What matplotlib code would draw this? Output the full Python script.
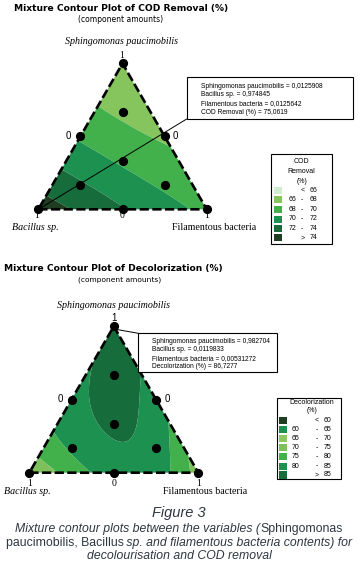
import numpy as np
import matplotlib
matplotlib.use('Agg')
import matplotlib.pyplot as plt
import matplotlib.tri as mtri
from matplotlib.patches import Rectangle

# ---------------- data ----------------
components = ['Sphingomonas paucimobilis', 'Bacillus sp.', 'Filamentous bacteria']

# COD removal (%): 10 design points (s, b, f), then contour-edge readings
cod_s = [1, 0, 0, 0.5, 0.5, 0, 1/3, 2/3, 1/6, 1/6, 0.702, 0.474, 0.268, 0.097, 0.44, 0, 0, 0]
cod_b = [0, 1, 0, 0.5, 0, 0.5, 1/3, 1/6, 2/3, 1/6, 0.298, 0.526, 0.732, 0.903, 0, 0.10, 0.464, 0.81]
cod_f = [0, 0, 1, 0, 0.5, 0.5, 1/3, 1/6, 1/6, 2/3, 0, 0, 0, 0, 0.56, 0.90, 0.536, 0.19]
cod_values = [66.4, 75.1, 69.6, 69.8, 67.7, 72.1, 69.8, 67.6, 72.2, 69.6,
              68.0, 70.0, 72.0, 74.0, 68.0, 70.0, 72.0, 74.0]
cod_levels = [66, 68, 70, 72, 74]
cod_colors = ['#d2ecd0', '#86c45e', '#43b14b', '#1d9150', '#176c3b', '#1f3d21']
cod_legend = ['<  66', '66  -  68', '68  -  70', '70  -  72', '72  -  74', '>  74']
cod_annot = (0.0125908, 0.974845, 0.0125642, 75.0619)

# Decolorization (%): 10 design points, then contour-edge readings
dec_s = [1, 0, 0, 0.5, 0.5, 0, 1/3, 2/3, 1/6, 1/6,
         0.84, 0.22, 0.155, 0.77, 0.24, 0.20, 0, 0, 0, 0, 0.496, 0.427, 0.245]
dec_b = [0, 1, 0, 0.5, 0, 0.5, 1/3, 1/6, 2/3, 1/6,
         0.16, 0.78, 0.845, 0, 0, 0, 0.76, 0.72, 0.11, 0.07, 0.442, 0.13, 0.382]
dec_f = [0, 0, 1, 0, 0.5, 0.5, 1/3, 1/6, 1/6, 2/3,
         0, 0, 0, 0.23, 0.76, 0.80, 0.24, 0.28, 0.89, 0.93, 0.062, 0.443, 0.373]
dec_values = [86.8, 71.0, 72.0, 82.5, 82.8, 82.0, 85.5, 87.0, 81.0, 81.2,
              85.0, 80.0, 75.0, 85.0, 80.0, 75.0, 75.0, 80.0, 80.0, 75.0, 85.0, 85.0, 85.0]
dec_levels = [60, 65, 70, 75, 80, 85]
dec_colors = ['#1f3d21', '#1d9150', '#8cc762', '#80c05c', '#43b14b', '#1d9150', '#176c3b']
dec_legend = ['<  60', '60  -  65', '65  -  70', '70  -  75', '75  -  80', '80  -  85', '>  85']
dec_annot = (0.982704, 0.0119833, 0.00531272, 86.7277)

# ---------------- helpers ----------------
W_FIG, H_FIG = 358, 567
fig = plt.figure(figsize=(3.58, 5.67), dpi=100)
renderer = fig.canvas.get_renderer()
SANS = ['Liberation Sans', 'DejaVu Sans']
SERIF = ['Liberation Serif', 'DejaVu Serif']
SQ = np.sqrt(3) / 2


def fx(x):
    return x / W_FIG


def fy(y):
    return 1 - y / H_FIG


def ptext(x, y, s, **kw):
    kw.setdefault('va', 'center')
    return fig.text(fx(x), fy(y), s, **kw)


def fit_width(t, target):
    w = t.get_window_extent(renderer).width
    t.set_fontsize(t.get_fontsize() * target / w)


def rect(x0, y0, x1, y1, **kw):
    r = Rectangle((fx(x0), fy(y1)), fx(x1) - fx(x0), fy(y0) - fy(y1),
                  transform=fig.transFigure, **kw)
    fig.add_artist(r)


def to_xy(s, b, f):
    s = np.asarray(s, float)
    f = np.asarray(f, float)
    return f + s / 2, s * SQ


def terms(s, b, f):
    return np.column_stack([s, b, f, s * b, s * f, b * f,
                            s * b * (s - b), s * f * (s - f), b * f * (b - f), s * b * f])


def fit(s, b, f, z):
    X = terms(np.array(s, float), np.array(b, float), np.array(f, float))
    coef, *_ = np.linalg.lstsq(X, np.array(z, float), rcond=None)
    return coef


n = 90
pts = np.array([(i / n, j / n, (n - i - j) / n) for i in range(n + 1) for j in range(n + 1 - i)])
gs, gb, gf = pts.T
gx, gy = to_xy(gs, gb, gf)
tri = mtri.Triangulation(gx, gy)


def ternary(x0, ybase, w, s, b, f, z, levels, colors, design_n):
    ax = fig.add_axes([0, 0, 1, 1])
    ax.set_xlim(-x0 / w, (W_FIG - x0) / w)
    yb = H_FIG - ybase
    ax.set_ylim(-yb / w, (H_FIG - yb) / w)
    ax.axis('off')
    ax.patch.set_alpha(0)
    coef = fit(s, b, f, z)
    zz = terms(gs, gb, gf) @ coef
    ax.tricontourf(tri, zz, levels=[-1e3] + levels + [1e3], colors=colors, antialiased=True)
    ax.plot([0, 1, 0.5, 0], [0, 0, SQ, 0], color='black', lw=1.9,
            linestyle=(0, (3.5, 1.3)), zorder=4, clip_on=False)
    dx, dy = to_xy(s[:design_n], b[:design_n], f[:design_n])
    ax.plot(dx, dy, 'o', color='black', ms=5.6, zorder=5, clip_on=False)
    return ax


def fmt(v):
    return str(v).replace('.', ',')


# ---------------- plot 1: COD ----------------
ax1 = ternary(38.3, 209.3, 168.4, cod_s, cod_b, cod_f, cod_values, cod_levels, cod_colors, 10)

t = ptext(121, 8, 'Mixture Contour Plot of COD Removal (%)', ha='center',
          fontweight='bold', family=['DejaVu Sans'], fontsize=7)
fit_width(t, 215)
t = ptext(121, 19.5, '(component amounts)', ha='center', family=['DejaVu Sans'], fontsize=6)
fit_width(t, 86)
ptext(122, 41.5, components[0], ha='center', family=SERIF, style='italic', fontsize=7.2)
ptext(122, 55, '1', ha='center', family=SERIF, fontsize=7)
ptext(68.3, 135.7, '0', ha='center', family=SANS, fontsize=7)
ptext(175.5, 135.7, '0', ha='center', family=SANS, fontsize=7)
for xx, lab in [(37, '1'), (122, '0'), (207, '1')]:
    ptext(xx, 216, lab, ha='center', family=SERIF, fontsize=7)
ptext(11.7, 227.5, components[1], ha='left', family=SERIF, style='italic', fontsize=7.2)
ptext(171.7, 227.5, components[2], ha='left', family=SERIF, fontsize=7.2)

rect(186.7, 77.3, 353, 119, fill=True, facecolor='white', edgecolor='black', lw=0.8, zorder=6)
lines1 = [components[0] + ' = ' + fmt(cod_annot[0]),
          components[1] + ' = ' + fmt(cod_annot[1]),
          components[2] + ' = ' + fmt(cod_annot[2]),
          'COD Removal (%) = ' + fmt(cod_annot[3])]
for i, ln in enumerate(lines1):
    ptext(200.7, 86 + i * 8.7, ln, ha='left', family=SANS, fontsize=4.8, zorder=7)
ax1.annotate('', xy=to_xy(cod_annot[0], cod_annot[1], cod_annot[2]), xycoords='data',
             xytext=(fx(186.7), fy(119)), textcoords='figure fraction',
             arrowprops=dict(arrowstyle='-', lw=0.7, color='black', shrinkA=0, shrinkB=0),
             zorder=6)

rect(271, 154, 332.3, 244, fill=False, edgecolor='black', lw=0.8)
for i, tl in enumerate(['COD', 'Removal', '(%)']):
    ptext(301.7, 161.7 + i * 10, tl, ha='center', family=SANS, fontsize=5)
cod_rows = [190, 199.7, 209.3, 219, 228.3, 237.7]
for yy, col, lab in zip(cod_rows, cod_colors, cod_legend):
    rect(274.3, yy - 3.5, 281.7, yy + 3.5, facecolor=col, edgecolor='none')
    parts = lab.split()
    if len(parts) == 3:
        ptext(288.7, yy, parts[0], ha='left', family=SANS, fontsize=5)
        ptext(302.3, yy, parts[1], ha='center', family=SANS, fontsize=5)
        ptext(310, yy, parts[2], ha='left', family=SANS, fontsize=5)
    else:
        ptext(302.3, yy, parts[0], ha='center', family=SANS, fontsize=5)
        ptext(310, yy, parts[1], ha='left', family=SANS, fontsize=5)

# ---------------- plot 2: Decolorization ----------------
ax2 = ternary(29.3, 472.7, 169, dec_s, dec_b, dec_f, dec_values, dec_levels, dec_colors, 10)

t = ptext(113.7, 268, 'Mixture Contour Plot of Decolorization (%)', ha='center',
          fontweight='bold', family=['DejaVu Sans'], fontsize=7)
fit_width(t, 220)
t = ptext(120, 279.5, '(component amounts)', ha='center', family=['DejaVu Sans'], fontsize=6)
fit_width(t, 84)
ptext(113.5, 305, components[0], ha='center', family=SERIF, style='italic', fontsize=7.2)
ptext(114, 318.3, '1', ha='center', family=SANS, fontsize=7)
ptext(60, 399, '0', ha='center', family=SANS, fontsize=7)
ptext(167, 399, '0', ha='center', family=SANS, fontsize=7)
for xx, lab in [(29.3, '1'), (114, '0'), (198.3, '1')]:
    ptext(xx, 483.3, lab, ha='center', family=SERIF, fontsize=7)
ptext(4, 491, components[1], ha='left', family=SERIF, style='italic', fontsize=7.2)
ptext(163, 491, components[2], ha='left', family=SERIF, fontsize=7.2)

rect(138.3, 333.3, 276.7, 372.3, fill=True, facecolor='white', edgecolor='black', lw=0.8, zorder=6)
lines2 = [components[0] + ' = ' + fmt(dec_annot[0]),
          components[1] + ' = ' + fmt(dec_annot[1]),
          components[2] + ' = ' + fmt(dec_annot[2]),
          'Decolorization (%) = ' + fmt(dec_annot[3])]
for i, ln in enumerate(lines2):
    ptext(152.3, 341.7 + i * 8.2, ln, ha='left', family=SANS, fontsize=4.8, zorder=7)
ax2.annotate('', xy=to_xy(dec_annot[0], dec_annot[1], dec_annot[2]), xycoords='data',
             xytext=(fx(138.3), fy(333.3)), textcoords='figure fraction',
             arrowprops=dict(arrowstyle='-', lw=0.7, color='black', shrinkA=0, shrinkB=0),
             zorder=6)

rect(276.7, 398.3, 340.7, 479.3, fill=False, edgecolor='black', lw=0.8)
ptext(311.7, 402, 'Decolorization', ha='center', family=SANS, fontsize=5)
ptext(311.7, 411, '(%)', ha='center', family=SANS, fontsize=5)
dec_rows = [420, 429.3, 438.3, 447.7, 456.7, 466, 475]
for yy, col, lab in zip(dec_rows, dec_colors, dec_legend):
    rect(279.3, yy - 3.5, 286.7, yy + 3.5, facecolor=col, edgecolor='none')
    parts = lab.split()
    if len(parts) == 3:
        ptext(291.7, yy, parts[0], ha='left', family=SANS, fontsize=5)
        ptext(316.7, yy, parts[1], ha='center', family=SANS, fontsize=5)
        ptext(324, yy, parts[2], ha='left', family=SANS, fontsize=5)
    else:
        ptext(316.7, yy, parts[0], ha='center', family=SANS, fontsize=5)
        ptext(324, yy, parts[1], ha='left', family=SANS, fontsize=5)

# ---------------- caption ----------------
CAP = '#2f3640'
t = ptext(179, 513.3, 'Figure 3', ha='center', family=SANS, style='italic', fontsize=10.5, color=CAP)
caption = [
    [('Mixture contour plots between the variables (', 'italic'), ('Sphingomonas', 'normal')],
    [('paucimobilis, Bacillus', 'normal'), (' sp. and filamentous bacteria contents) for', 'italic')],
    [('decolourisation and COD removal', 'italic')],
]
cap_y = [529.3, 542.7, 556]
objs = []
for line, yy in zip(caption, cap_y):
    row = []
    for seg, st in line:
        row.append(ptext(0, yy, seg, ha='left', family=SANS, style=st, fontsize=8, color=CAP))
    objs.append(row)
w2 = sum(o.get_window_extent(renderer).width for o in objs[1])
scale = 350 / w2
for row in objs:
    for o in row:
        o.set_fontsize(8 * scale)
for row in objs:
    widths = [o.get_window_extent(renderer).width for o in row]
    x = 179 - sum(widths) / 2
    for o, w in zip(row, widths):
        o.set_x(fx(x))
        x += w

fig.savefig('out.png', dpi=100)
